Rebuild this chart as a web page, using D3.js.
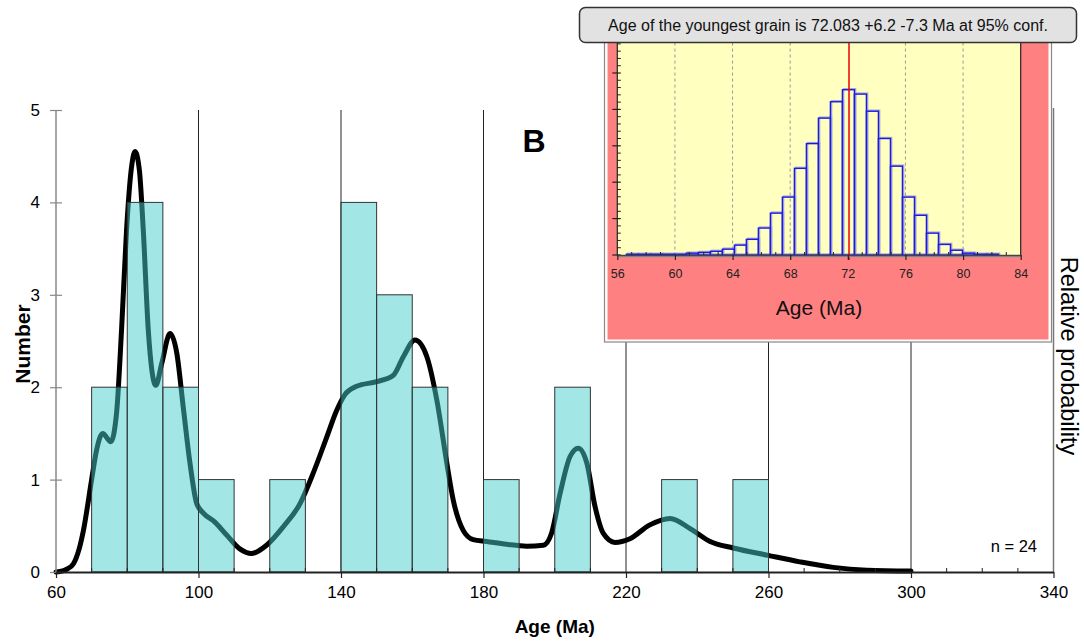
<!DOCTYPE html>
<html>
<head>
<meta charset="utf-8">
<script src="https://cdn.jsdelivr.net/npm/d3@7"></script>
<style>
  body { margin: 0; background: #fff; }
  svg { display: block; font-family: "Liberation Sans", Arial, sans-serif; }
</style>
</head>
<body>
<svg id="chart" width="1084" height="642"></svg>
<script>
// ---- Detrital zircon ages: histogram (10 Ma bins) ----
const binStarts = [70, 80, 90, 100, 110, 120, 130, 140, 150, 160, 170, 180, 190, 200, 210, 220, 230, 240, 250];
const binCounts = [2, 4, 2, 1, 0, 1, 0, 4, 3, 2, 0, 1, 0, 2, 0, 0, 1, 0, 1];
const binWidth = 10;
const xTicks = [60, 100, 140, 180, 220, 260, 300, 340];
const yTicks = [0, 1, 2, 3, 4, 5];
const gridAges = [100, 140, 180, 220, 260, 300];
const sampleCount = 24;

// ---- Relative probability curve (scaled to the Number axis) ----
const probAge = [60, 61.1, 63, 64.9, 66.5, 67.7, 70.0, 71.4, 73.1, 75.4, 77.0, 78.4, 79.8, 81.1, 82.2, 83.4,
  84.5, 85.9, 88.0, 89.7, 92.0, 93.9, 95.7, 97.6, 99.5, 101.3, 104.6, 107.9, 111.6, 114.9, 119.1, 123.8,
  128.5, 132.2, 136.0, 138.8, 141.1, 144.4, 150.0, 154.7, 157.5, 160.8, 164.1, 166.9, 169.7, 171.5, 174.3,
  177.1, 180.9, 186.5, 192.1, 196.8, 199.1, 201.5, 204.3, 206.6, 209.0, 211.3, 213.6, 216.9, 221.1, 226.7,
  232.4, 238.0, 243.6, 250.1, 259.9, 268.8, 278.2, 287.6, 300];
const probValue = [0, 0.005, 0.03, 0.09, 0.25, 0.45, 1.0, 1.32, 1.50, 1.41, 1.72, 2.62, 3.70, 4.35, 4.55, 4.35,
  3.70, 2.62, 2.02, 2.26, 2.58, 2.37, 1.79, 1.18, 0.74, 0.64, 0.54, 0.40, 0.25, 0.20, 0.29, 0.49,
  0.74, 1.07, 1.46, 1.75, 1.92, 2.01, 2.06, 2.13, 2.33, 2.51, 2.33, 1.86, 1.18, 0.78, 0.45,
  0.35, 0.33, 0.30, 0.28, 0.29, 0.42, 0.85, 1.25, 1.34, 1.18, 0.71, 0.42, 0.32, 0.36, 0.51,
  0.58, 0.47, 0.33, 0.26, 0.18, 0.11, 0.05, 0.02, 0.01];

// ---- Youngest-grain Monte Carlo distribution (inset) ----
const simBinStart = 56.625;
const simBinWidth = 0.8333;
const simCounts = [2, 2, 2, 2, 2, 5, 7, 10, 16, 27, 43, 74, 115, 159, 238, 306, 376, 421, 454, 442,
  395, 320, 244, 159, 109, 60, 29, 13, 5, 2, 2];
const insetTicks = [56, 60, 64, 68, 72, 76, 80, 84];
const insetGrid = [60, 64, 68, 76, 80];
const youngestAge = 72.083;
const titleText = "Age of the youngest grain is 72.083 +6.2 -7.3 Ma at 95% conf.";

const svg = d3.select("#chart");

// ===== Main chart =====
const x = d3.scaleLinear().domain([60, 340]).range([56, 1053.5]);
const y = d3.scaleLinear().domain([0, 5]).range([572, 110]);

// vertical grid lines
svg.append("g").selectAll("line").data(gridAges).join("line")
  .attr("x1", d => x(d)).attr("x2", d => x(d))
  .attr("y1", y(5)).attr("y2", y(0))
  .attr("stroke", "#222").attr("stroke-width", 1);

// right (relative probability) axis line
svg.append("line")
  .attr("x1", x(340)).attr("x2", x(340)).attr("y1", y(5) - 2).attr("y2", y(0))
  .attr("stroke", "#777").attr("stroke-width", 1.5);

// probability curve (under the translucent bars)
const line = d3.line().x((d, i) => x(probAge[i])).y(d => y(d)).curve(d3.curveMonotoneX);
svg.append("path")
  .datum(probValue)
  .attr("d", line)
  .attr("fill", "none").attr("stroke", "#000").attr("stroke-width", 5)
  .attr("stroke-linejoin", "round").attr("stroke-linecap", "round");

// histogram bars
svg.append("g").selectAll("rect").data(binCounts.map((c, i) => ({ s: binStarts[i], c })).filter(d => d.c > 0))
  .join("rect")
  .attr("x", d => x(d.s)).attr("width", d => x(d.s + binWidth) - x(d.s))
  .attr("y", d => y(d.c)).attr("height", d => y(0) - y(d.c))
  .attr("fill", "rgb(70,205,205)").attr("fill-opacity", 0.5)
  .attr("stroke", "#333").attr("stroke-width", 1);

// left axis
const yAxis = svg.append("g").attr("transform", `translate(${x(60)},0)`)
  .call(d3.axisLeft(y).tickValues(yTicks).tickSize(6).tickPadding(10).tickFormat(d3.format("d")));
yAxis.select(".domain").attr("stroke", "#888").attr("stroke-width", 1.5).attr("d", `M0,${y(5)}V${y(0)}`);
yAxis.selectAll(".tick line").attr("x1", 6).attr("stroke", "#888").attr("stroke-width", 1.2);
yAxis.selectAll(".tick text").attr("font-size", 17).attr("fill", "#000")
  .attr("font-family", "Liberation Sans, Arial, sans-serif");

// minor x ticks (every 10 Ma, pointing up)
svg.append("g").selectAll("line").data(d3.range(70, 340, 10).filter(v => (v - 60) % 40 !== 0)).join("line")
  .attr("x1", d => x(d)).attr("x2", d => x(d))
  .attr("y1", y(0) - 4).attr("y2", y(0))
  .attr("stroke", "#222").attr("stroke-width", 1);

// bottom axis
const xAxis = svg.append("g").attr("transform", `translate(0,${y(0)})`)
  .call(d3.axisBottom(x).tickValues(xTicks).tickSize(6).tickSizeOuter(0).tickPadding(8));
xAxis.select(".domain").attr("stroke", "#222").attr("stroke-width", 1.8);
xAxis.selectAll(".tick line").attr("stroke", "#222").attr("stroke-width", 1.2);
xAxis.selectAll(".tick text").attr("font-size", 17).attr("fill", "#000")
  .attr("font-family", "Liberation Sans, Arial, sans-serif");

// axis titles and annotations
svg.append("text").attr("x", (x(60) + x(340)) / 2).attr("y", 633)
  .attr("text-anchor", "middle").attr("font-size", 19).attr("font-weight", "bold").text("Age (Ma)");
svg.append("text").attr("transform", `translate(30,${(y(0) + y(5)) / 2 + 3}) rotate(-90)`)
  .attr("text-anchor", "middle").attr("font-size", 21).attr("font-weight", "bold").text("Number");
svg.append("text").attr("transform", `translate(1061,356) rotate(90)`)
  .attr("text-anchor", "middle").attr("font-size", 23.5).text("Relative probability");
svg.append("text").attr("x", 534).attr("y", 152)
  .attr("text-anchor", "middle").attr("font-size", 32).attr("font-weight", "bold").text("B");
svg.append("text").attr("x", 1037).attr("y", 552)
  .attr("text-anchor", "end").attr("font-size", 16.5).text(`n = ${sampleCount}`);

// ===== Inset: youngest grain age distribution =====
const inset = svg.append("g");
inset.append("rect").attr("x", 604.5).attr("y", 24).attr("width", 447).attr("height", 318)
  .attr("fill", "#fff").attr("stroke", "#888").attr("stroke-width", 1.2);
inset.append("rect").attr("x", 607.5).attr("y", 27).attr("width", 441).attr("height", 312.5)
  .attr("fill", "#ff8080");

const xi = d3.scaleLinear().domain([56, 84]).range([617.3, 1020.7]);
const yi = d3.scaleLinear().domain([0, 600]).range([255, 36.6]);

inset.append("rect").attr("x", xi(56)).attr("y", yi(600))
  .attr("width", xi(84) - xi(56)).attr("height", yi(0) - yi(600))
  .attr("fill", "#ffffc0");

// dashed grid
inset.append("g").selectAll("line").data(insetGrid).join("line")
  .attr("x1", d => xi(d)).attr("x2", d => xi(d)).attr("y1", yi(600)).attr("y2", yi(0))
  .attr("stroke", "#999").attr("stroke-width", 1).attr("stroke-dasharray", "3,3");

// histogram of simulated ages
const simBins = simCounts.map((c, i) => ({ s: simBinStart + i * simBinWidth, c }));
inset.append("g").selectAll("rect").data(simBins).join("rect")
  .attr("x", d => xi(d.s) + 1.2).attr("width", d => xi(d.s + simBinWidth) - xi(d.s))
  .attr("y", d => yi(d.c) - 1).attr("height", d => yi(0) - yi(d.c))
  .attr("fill", "none").attr("stroke", "#a8a8c0").attr("stroke-width", 1.4);
inset.append("g").selectAll("rect").data(simBins).join("rect")
  .attr("x", d => xi(d.s)).attr("width", d => xi(d.s + simBinWidth) - xi(d.s))
  .attr("y", d => yi(d.c)).attr("height", d => yi(0) - yi(d.c))
  .attr("fill", "none").attr("stroke", "#1a1aee").attr("stroke-width", 1.4);

// youngest age marker
inset.append("line").attr("x1", xi(youngestAge)).attr("x2", xi(youngestAge))
  .attr("y1", yi(600)).attr("y2", yi(0) + 5)
  .attr("stroke", "#ee0000").attr("stroke-width", 1.5);

// plot frame: right edge, left axis
inset.append("line").attr("x1", xi(84)).attr("x2", xi(84)).attr("y1", yi(600)).attr("y2", yi(0))
  .attr("stroke", "#222").attr("stroke-width", 1.2);
inset.append("line").attr("x1", xi(56)).attr("x2", xi(56)).attr("y1", yi(600)).attr("y2", yi(0))
  .attr("stroke", "#222").attr("stroke-width", 1.2);

// inset y ticks: majors crossing the axis, minors inside
inset.append("g").selectAll("line").data(d3.range(0, 601, 100)).join("line")
  .attr("x1", xi(56) - 5).attr("x2", xi(56) + 3.5).attr("y1", d => yi(d)).attr("y2", d => yi(d))
  .attr("stroke", "#222").attr("stroke-width", 1.2);
inset.append("g").selectAll("line").data(d3.range(20, 600, 20).filter(v => v % 100 !== 0)).join("line")
  .attr("x1", xi(56)).attr("x2", xi(56) + 3.5).attr("y1", d => yi(d)).attr("y2", d => yi(d))
  .attr("stroke", "#222").attr("stroke-width", 1);

// inset x axis
inset.append("line").attr("x1", xi(56)).attr("x2", xi(84)).attr("y1", yi(0) + 1.5).attr("y2", yi(0) + 1.5)
  .attr("stroke", "#999").attr("stroke-width", 1.5);
const xiAxis = inset.append("g").attr("transform", `translate(0,${yi(0)})`)
  .call(d3.axisBottom(xi).tickValues(insetTicks).tickSize(5).tickSizeOuter(0).tickPadding(9));
xiAxis.select(".domain").attr("stroke", "#444").attr("stroke-width", 1.5);
xiAxis.selectAll(".tick line").attr("stroke", "#222").attr("stroke-width", 1.2);
xiAxis.selectAll(".tick text").attr("font-size", 12.5).attr("fill", "#222")
  .attr("font-family", "Liberation Sans, Arial, sans-serif");
inset.append("g").selectAll("line").data(d3.range(57, 84, 1).filter(v => v % 4 !== 0)).join("line")
  .attr("x1", d => xi(d)).attr("x2", d => xi(d)).attr("y1", yi(0) - 3).attr("y2", yi(0))
  .attr("stroke", "#222").attr("stroke-width", 1);

inset.append("text").attr("x", (xi(56) + xi(84)) / 2).attr("y", 315)
  .attr("text-anchor", "middle").attr("font-size", 21).attr("fill", "#111").text("Age (Ma)");

// title box
inset.append("rect").attr("x", 579.5).attr("y", 7.5).attr("width", 497).attr("height", 35)
  .attr("rx", 6).attr("ry", 6)
  .attr("fill", "#e2e2e2").attr("stroke", "#333").attr("stroke-width", 1.5);
inset.append("text").attr("x", 828).attr("y", 30.5)
  .attr("text-anchor", "middle").attr("font-size", 16).attr("fill", "#111").text(titleText);
</script>
</body>
</html>
